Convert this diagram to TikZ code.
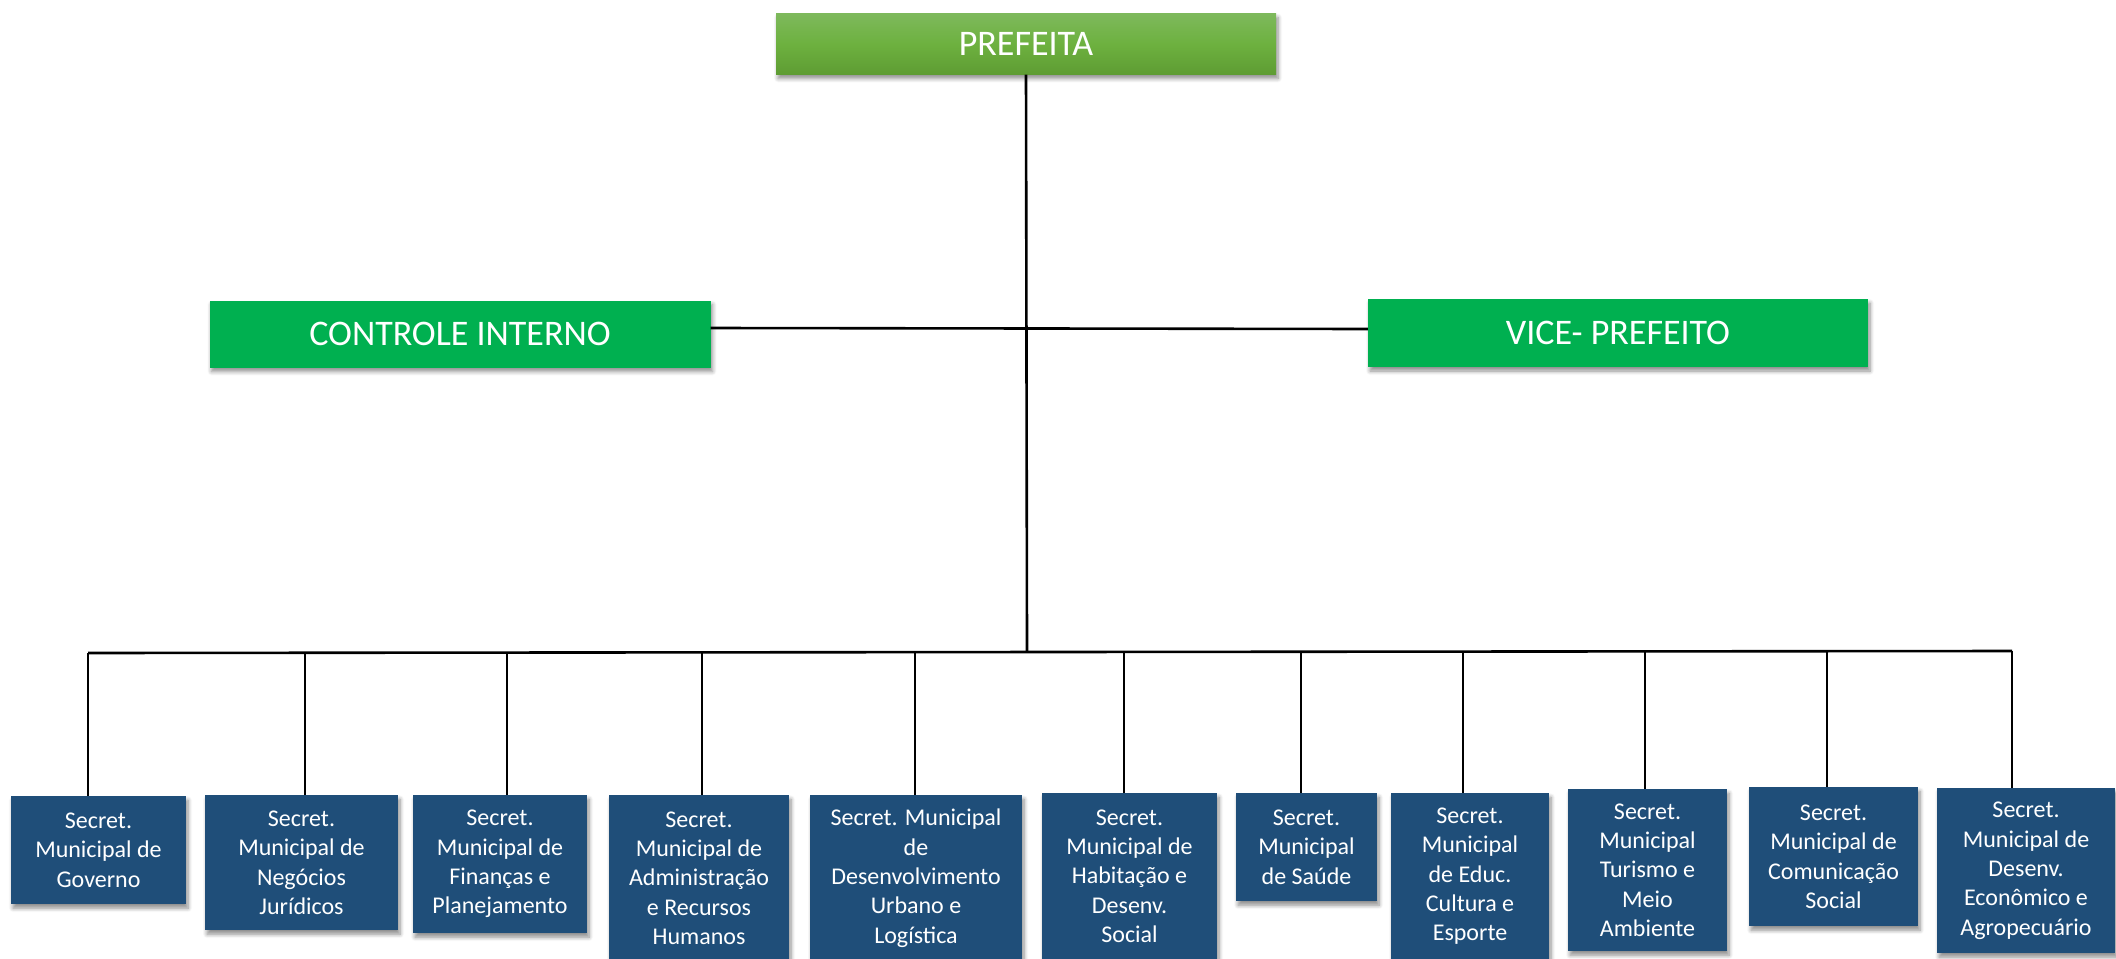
\documentclass[tikz,border=0pt]{standalone}
\usepackage{fontspec}
\setmainfont{Carlito}
\usetikzlibrary{shadows,shadows.blur}
\definecolor{secblue}{HTML}{1F4E79}
\definecolor{boxgreen}{HTML}{00B050}
\definecolor{topgreen}{HTML}{7EB95C}
\definecolor{midgreen}{HTML}{6DB13F}
\definecolor{botgreen}{HTML}{5E9C33}
\tikzset{
  shadowed/.style={blur shadow={shadow xshift=2pt, shadow yshift=-4pt, shadow blur steps=6, shadow opacity=45, shadow blur radius=4pt}},
  headbox/.style={shadowed, draw=none, inner sep=0pt, text=white, font=\fontsize{36}{43}\selectfont},
  secbox/.style={shadowed, fill=secblue, draw=none, inner sep=0pt, text=white, align=center, anchor=north, font=\fontsize{24}{29.3}\selectfont},
  wire/.style={line width=2.6pt, black}
}
\begin{document}
\begin{tikzpicture}[x=1pt,y=-1pt]
\useasboundingbox (0,0) rectangle (2116,958);
% top level
\node[headbox, top color=topgreen, bottom color=botgreen, middle color=midgreen, minimum width=500pt, minimum height=61pt] (pref) at (1026,44) {PREFEITA};
\node[headbox, fill=boxgreen, minimum width=501pt, minimum height=67pt] (ctrl) at (460,334) {CONTROLE INTERNO};
\node[headbox, fill=boxgreen, minimum width=500pt, minimum height=68pt] (vice) at (1618,333) {VICE- PREFEITO};
% secretarias
\node[secbox, minimum width=175pt, minimum height=108pt] (s1) at (98.5,796) {Secret.\\Municipal de\\Governo};
\node[secbox, minimum width=193pt, minimum height=135pt] (s2) at (301.5,795) {Secret.\\Municipal de\\Negócios\\Jurídicos};
\node[secbox, minimum width=174pt, minimum height=138pt] (s3) at (500,795) {Secret.\\Municipal de\\Finanças e\\Planejamento};
\node[secbox, minimum width=180pt, minimum height=166pt] (s4) at (699,795) {Secret.\\Municipal de\\Administração\\e Recursos\\Humanos};
\node[secbox, minimum width=212pt, minimum height=166pt] (s5) at (916,795) {Secret. Municipal\\de\\Desenvolvimento\\Urbano e\\Logística};
\node[secbox, minimum width=175pt, minimum height=166pt] (s6) at (1129.5,793) {Secret.\\Municipal de\\Habitação e\\Desenv.\\Social};
\node[secbox, minimum width=141pt, minimum height=108pt] (s7) at (1306.5,793) {Secret.\\Municipal\\de Saúde};
\node[secbox, minimum width=158pt, minimum height=166pt] (s8) at (1470,793) {Secret.\\Municipal\\de Educ.\\Cultura e\\Esporte};
\node[secbox, minimum width=159pt, minimum height=162pt] (s9) at (1647.5,789) {Secret.\\Municipal\\Turismo e\\Meio\\Ambiente};
\node[secbox, minimum width=169pt, minimum height=139pt] (s10) at (1833.5,787) {Secret.\\Municipal de\\Comunicação\\Social};
\node[secbox, minimum width=178pt, minimum height=165pt] (s11) at (2026,788) {Secret.\\Municipal de\\Desenv.\\Econômico e\\Agropecuário};
% bus coordinates
\coordinate (hub) at (1027,652);
\coordinate (b1) at (88,653);
\coordinate (b2) at (305,653);
\coordinate (b3) at (507,653);
\coordinate (b4) at (702,652);
\coordinate (b5) at (915,652);
\coordinate (b6) at (1124,652);
\coordinate (b7) at (1301,652);
\coordinate (b8) at (1463,652);
\coordinate (b9) at (1645,651);
\coordinate (b10) at (1827,651);
\coordinate (b11) at (2012,651);
% connectors
\draw[wire] (pref.south) -- (hub);
\draw[wire] ([yshift=6pt]ctrl.east) -- ([yshift=4pt]vice.west);
\draw[wire] (b1) -- (b11);
\foreach \i in {1,...,11} {
  \draw[wire] (b\i) -- (b\i |- s\i.north);
}
\end{tikzpicture}
\end{document}
